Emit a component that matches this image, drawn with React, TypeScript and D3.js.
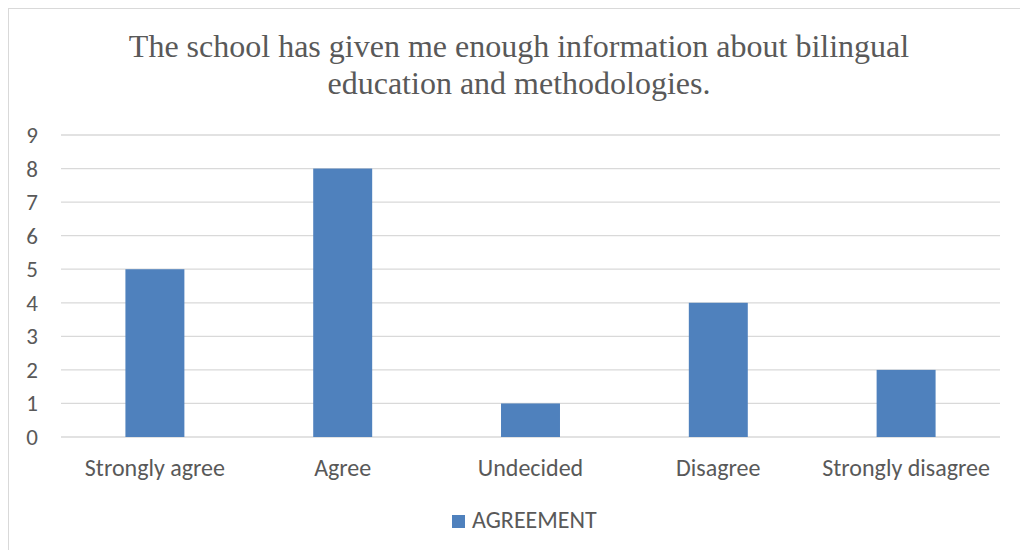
import React from "react";
import * as d3 from "d3";

const categories = ["Strongly agree", "Agree", "Undecided", "Disagree", "Strongly disagree"];
const values = [5, 8, 1, 4, 2];
const yTicks = [0, 1, 2, 3, 4, 5, 6, 7, 8, 9];
const seriesName = "AGREEMENT";
const titleLines = [
  "The school has given me enough information about bilingual",
  "education and methodologies.",
];

export default function App() {
  const W = 1020, H = 550;
  const left = 61, right = 1000, top = 135, bottom = 437;
  const x = d3.scaleBand<string>().domain(categories).range([left, right]).paddingInner(0.686).paddingOuter(0.343);
  const xc = d3.scaleBand<string>().domain(categories).range([left, right]);
  const y = d3.scaleLinear().domain([0, 9]).range([bottom, top]);
  const textColor = "#595959";
  const sans = "Carlito, 'Open Sans', 'Noto Sans', sans-serif";
  return (
    <svg width={W} height={H} style={{ position: "fixed", left: 0, top: 0, display: "block", background: "#fff" }}>
      <rect x={8.5} y={8.5} width={1100} height={1100} fill="#fff" stroke="#d9d9d9" strokeWidth={1} />
      {titleLines.map((t, i) => (
        <text key={i} x={519} y={57 + i * 37} textAnchor="middle" fontFamily="'Liberation Serif', 'Times New Roman', serif" fontSize={32} fill={textColor}>
          {t}
        </text>
      ))}
      {yTicks.map((t) => (
        <g key={t}>
          <line x1={left} x2={right} y1={y(t)} y2={y(t)} stroke="#d9d9d9" strokeWidth={1.3} />
          <text x={32} y={y(t) + 8} textAnchor="middle" fontFamily={sans} fontSize={23} fill={textColor}>{t}</text>
        </g>
      ))}
      {categories.map((c, i) => (
        <rect key={c} x={x(c)} y={y(values[i])} width={x.bandwidth()} height={y(0) - y(values[i])} fill="#4F81BD" />
      ))}
      {categories.map((c) => (
        <text key={c} x={(xc(c) as number) + xc.bandwidth() / 2} y={476} textAnchor="middle" fontFamily={sans} fontSize={24} fill={textColor}>{c}</text>
      ))}
      <rect x={452} y={515} width={13} height={13} fill="#4F81BD" />
      <text x={472} y={528} fontFamily={sans} fontSize={24} fill={textColor}>{seriesName}</text>
    </svg>
  );
}
